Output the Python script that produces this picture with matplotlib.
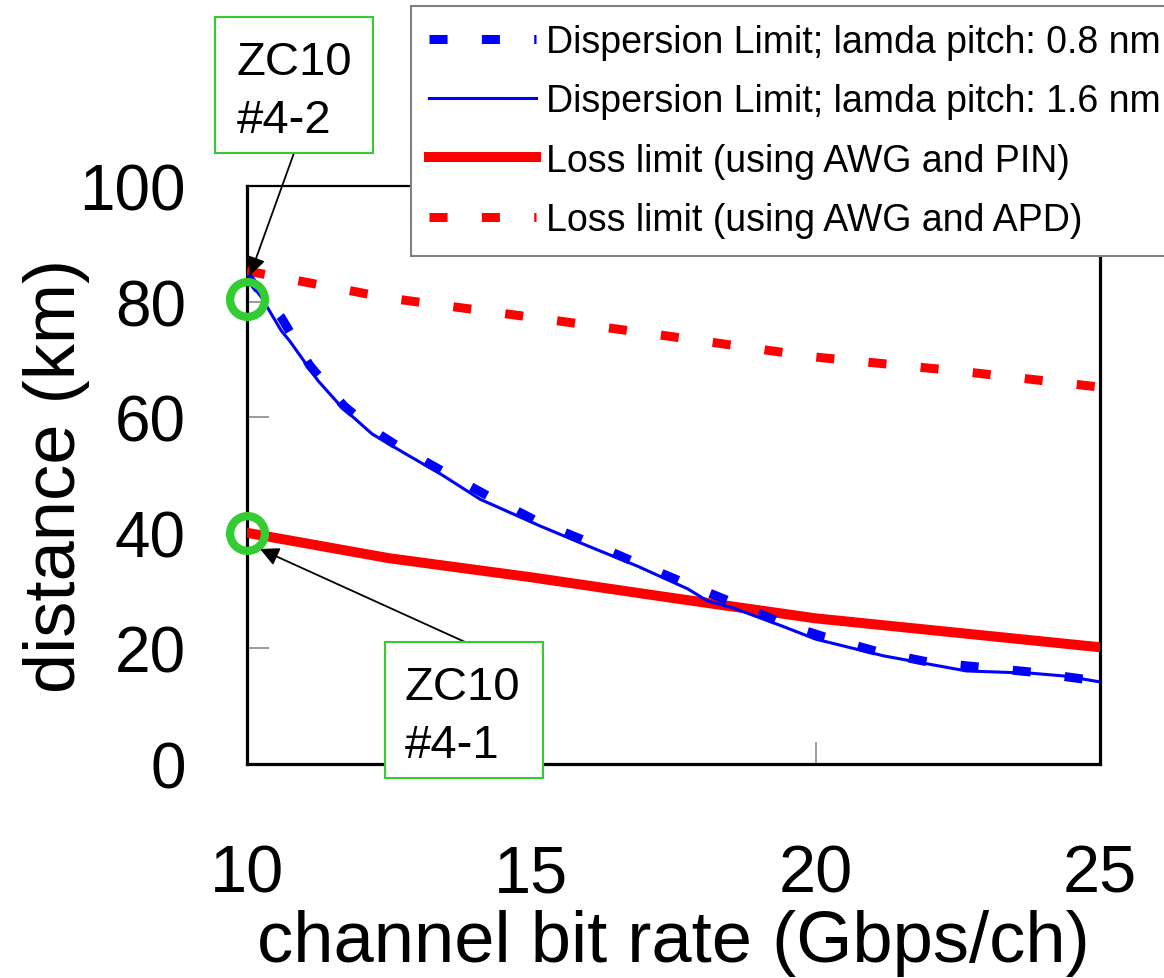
import matplotlib
matplotlib.use('Agg')
import matplotlib.pyplot as plt
from matplotlib.patches import Rectangle

plt.rcParams['font.family'] = ['Liberation Sans', 'DejaVu Sans']

# dispersion limit, lamda pitch 0.8 nm
rate_08 = [10.0, 10.25, 10.6, 11.1, 11.7, 12.25, 12.65, 13.45, 14.25, 15.1, 16.0,
           16.85, 17.7, 18.6, 19.45, 20.15, 21.1, 22.0, 22.85, 23.8, 24.7, 25.0]
dist_08 = [84.5, 81.5, 77.3, 69.0, 62.0, 57.5, 55.0, 50.6, 46.3, 42.0, 38.4,
           34.8, 31.3, 27.7, 24.2, 22.0, 19.4, 17.6, 16.8, 15.9, 14.7, 14.3]

# dispersion limit, lamda pitch 1.6 nm
rate_16 = [10.0, 10.25, 10.6, 10.75, 11.25, 11.65, 12.2, 12.8, 13.4, 14.1, 15.15,
           16.0, 16.85, 17.75, 18.1, 18.55, 19.4, 20.0, 21.2, 22.65, 23.8, 24.4, 25.0]
dist_16 = [84.0, 80.8, 75.0, 73.2, 66.3, 61.9, 57.1, 53.6, 50.2, 45.8, 41.2,
           37.7, 34.3, 30.3, 28.2, 27.0, 23.9, 21.6, 18.7, 16.1, 15.7, 15.2, 14.2]

# loss limits
rate_loss = [10, 12.5, 15, 17.5, 20, 22.5, 25]
dist_pin = [40.0, 35.6, 32.3, 28.7, 25.2, 22.7, 20.2]
dist_apd = [85.3, 80.6, 77.3, 73.9, 70.4, 68.0, 65.2]

labels = ['Dispersion Limit; lamda pitch: 0.8 nm',
          'Dispersion Limit; lamda pitch: 1.6 nm',
          'Loss limit (using AWG and PIN)',
          'Loss limit (using AWG and APD)']

W, H = 1164, 979
fig = plt.figure(figsize=(W / 100, H / 100), dpi=100)
ax = fig.add_axes([247 / W, 1 - 765 / H, 853 / W, 578 / H])

h1, = ax.plot(rate_08, dist_08, color='#0000ff', lw=6.5, dashes=(2.0, 3.8), zorder=4)
h2, = ax.plot(rate_16, dist_16, color='#0000ff', lw=2.2, zorder=5)
h3, = ax.plot(rate_loss, dist_pin, color='#ff0000', lw=7.2, zorder=3)
h4, = ax.plot(rate_loss, dist_apd, color='#ff0000', lw=6.5, dashes=(2.0, 3.8), zorder=3)

# marked devices
ax.plot([10], [80.5], 'o', ms=25, mfc='none', mec='#33cc33', mew=6,
        clip_on=False, zorder=6)
ax.plot([10], [40], 'o', ms=25, mfc='none', mec='#33cc33', mew=6,
        clip_on=False, zorder=6)

ax.set_xlim(10, 25)
ax.set_ylim(0, 100)
ax.set_xticks([10, 15, 20, 25])
ax.set_yticks([0, 20, 40, 60, 80, 100])
ax.tick_params(axis='both', direction='in', length=16, width=1.1, color='#808080')
ax.tick_params(axis='x', pad=57, labelsize=48)
ax.tick_params(axis='y', pad=44, labelsize=46)
for side in ['left', 'bottom', 'right']:
    ax.spines[side].set_linewidth(2.3)
ax.spines['top'].set_linewidth(1.6)

ax.set_xlabel('channel bit rate (Gbps/ch)', fontsize=52, labelpad=3)
ax.set_ylabel('distance (km)', fontsize=52, labelpad=-8)

leg = fig.legend([h1, h2, h3, h4], labels, loc='upper left',
                 bbox_to_anchor=(411 / W, 1 - 7 / H), fontsize=27,
                 handlelength=2.85, handletextpad=0.27, labelspacing=0.62,
                 borderpad=0.48, borderaxespad=0, fancybox=False, framealpha=1)
leg.get_frame().set_edgecolor('#808080')
leg.get_frame().set_linewidth(1.5)


def label_box(x0, y0, x1, y1, tx, lines):
    fig.patches.append(Rectangle((x0 / W, 1 - y1 / H), (x1 - x0) / W, (y1 - y0) / H,
                                 transform=fig.transFigure, fc='white',
                                 ec='#33cc33', lw=1.5, zorder=2))
    for text, base in lines:
        fig.text(tx / W, 1 - base / H, text, fontsize=34, ha='left',
                 va='baseline', zorder=3)


label_box(215, 18, 373, 154, 237, [('ZC10', 75), ('#4-2', 133)])
label_box(385, 643, 543, 779, 405, [('ZC10', 700), ('#4-1', 758)])

ax.annotate('', xy=(10.05, 84.5), xytext=(294 / W, 1 - 154 / H),
            textcoords='figure fraction', annotation_clip=False,
            arrowprops=dict(arrowstyle='-|>', color='black', lw=1.3,
                            mutation_scale=28, shrinkA=0, shrinkB=0), zorder=7)
ax.annotate('', xy=(10.23, 37.2), xytext=(465 / W, 1 - 643 / H),
            textcoords='figure fraction', annotation_clip=False,
            arrowprops=dict(arrowstyle='-|>', color='black', lw=1.3,
                            mutation_scale=28, shrinkA=0, shrinkB=0), zorder=7)

fig.savefig('out.png', dpi=100)
